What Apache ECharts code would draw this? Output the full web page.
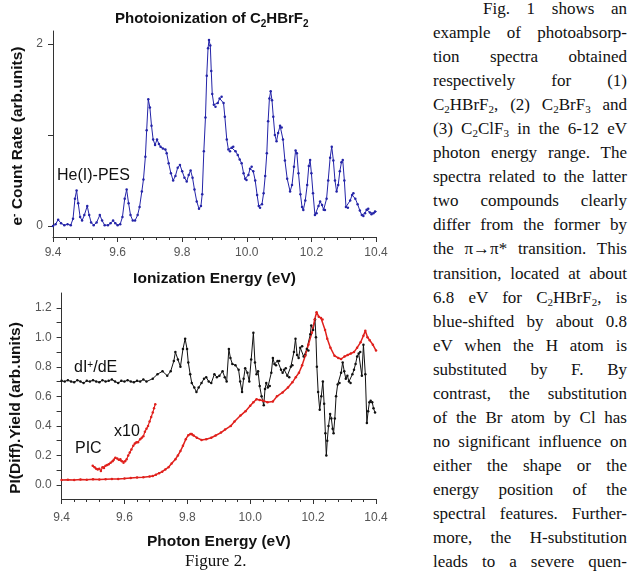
<!DOCTYPE html>
<html>
<head>
<meta charset="utf-8">
<script src="https://cdn.jsdelivr.net/npm/echarts@6/dist/echarts.min.js"></script>
<style>
body { margin: 0; background: #fff; }
#chart { position: absolute; left: 0; top: 0; width: 430px; height: 578px; }
#para { position: absolute; left: 433px; top: -3px; width: 194px; font-family: "Liberation Serif", serif; font-size: 17px; line-height: 24.05px; color: #111; }
#para div { text-align: justify; text-align-last: justify; }
#para div.first { padding-left: 50px; }
#para sub { font-size: 11px; line-height: 0; vertical-align: -3px; }
#caption { position: absolute; left: 185px; top: 551px; font-family: "Liberation Serif", serif; font-size: 17px; color: #111; }
</style>
</head>
<body>
<div id="chart"></div>
<div id="para">
  <div class="first">Fig. 1 shows an</div>
  <div>example of photoabsorp-</div>
  <div>tion spectra obtained</div>
  <div>respectively for (1)</div>
  <div>C<sub>2</sub>HBrF<sub>2</sub>, (2) C<sub>2</sub>BrF<sub>3</sub> and</div>
  <div>(3) C<sub>2</sub>ClF<sub>3</sub> in the 6-12 eV</div>
  <div>photon energy range. The</div>
  <div>spectra related to the latter</div>
  <div>two compounds clearly</div>
  <div>differ from the former by</div>
  <div>the π→π* transition. This</div>
  <div>transition, located at about</div>
  <div>6.8 eV for C<sub>2</sub>HBrF<sub>2</sub>, is</div>
  <div>blue-shifted by about 0.8</div>
  <div>eV when the H atom is</div>
  <div>substituted by F. By</div>
  <div>contrast, the substitution</div>
  <div>of the Br atom by Cl has</div>
  <div>no significant influence on</div>
  <div>either the shape or the</div>
  <div>energy position of the</div>
  <div>spectral features. Further-</div>
  <div>more, the H-substitution</div>
  <div>leads to a severe quen-</div>
</div>
<div id="caption">Figure 2.</div>
<script>
// He(I)-PES spectrum (top panel)
const pesEnergy = [9.400, 9.408, 9.416, 9.425, 9.435, 9.445, 9.455, 9.462, 9.468, 9.473, 9.478, 9.484, 9.490, 9.497, 9.506, 9.512, 9.518, 9.526, 9.535, 9.545, 9.552, 9.560, 9.570, 9.578, 9.586, 9.593, 9.600, 9.608, 9.615, 9.622, 9.628, 9.634, 9.640, 9.647, 9.654, 9.662, 9.668, 9.675, 9.680, 9.686, 9.690, 9.695, 9.700, 9.705, 9.710, 9.716, 9.722, 9.728, 9.733, 9.740, 9.748, 9.752, 9.758, 9.765, 9.772, 9.779, 9.786, 9.793, 9.800, 9.807, 9.814, 9.820, 9.826, 9.832, 9.838, 9.845, 9.852, 9.858, 9.862, 9.867, 9.872, 9.876, 9.880, 9.883, 9.887, 9.890, 9.893, 9.898, 9.903, 9.910, 9.916, 9.922, 9.928, 9.932, 9.938, 9.943, 9.948, 9.953, 9.958, 9.965, 9.972, 9.978, 9.984, 9.990, 9.995, 9.999, 10.005, 10.010, 10.015, 10.020, 10.026, 10.032, 10.037, 10.041, 10.047, 10.052, 10.057, 10.062, 10.066, 10.070, 10.074, 10.078, 10.082, 10.087, 10.092, 10.097, 10.103, 10.108, 10.112, 10.118, 10.125, 10.134, 10.140, 10.146, 10.151, 10.155, 10.160, 10.166, 10.171, 10.175, 10.181, 10.187, 10.192, 10.196, 10.200, 10.205, 10.211, 10.216, 10.222, 10.227, 10.233, 10.238, 10.242, 10.247, 10.252, 10.258, 10.263, 10.268, 10.273, 10.278, 10.283, 10.288, 10.293, 10.297, 10.302, 10.307, 10.313, 10.320, 10.326, 10.330, 10.336, 10.343, 10.350, 10.356, 10.361, 10.366, 10.371, 10.376, 10.381, 10.386, 10.392, 10.397, 10.402];
const pesRate = [0.00, 0.02, 0.07, 0.03, 0.01, 0.02, 0.01, 0.08, 0.30, 0.39, 0.25, 0.10, 0.06, 0.12, 0.22, 0.12, 0.04, 0.01, 0.04, 0.12, 0.06, 0.01, 0.01, 0.03, 0.06, 0.03, 0.01, 0.02, 0.10, 0.30, 0.40, 0.25, 0.12, 0.06, 0.06, 0.12, 0.21, 0.38, 0.51, 0.76, 1.05, 1.39, 1.30, 1.10, 0.95, 0.89, 0.95, 0.90, 0.87, 0.85, 0.84, 0.80, 0.69, 0.58, 0.50, 0.55, 0.64, 0.67, 0.60, 0.53, 0.49, 0.56, 0.61, 0.53, 0.40, 0.27, 0.19, 0.22, 0.35, 0.82, 1.19, 1.65, 1.95, 2.04, 1.98, 1.70, 1.45, 1.33, 1.31, 1.35, 1.40, 1.42, 1.35, 1.20, 0.95, 0.84, 0.82, 0.86, 0.87, 0.82, 0.78, 0.73, 0.69, 0.58, 0.52, 0.505, 0.56, 0.63, 0.65, 0.60, 0.50, 0.34, 0.22, 0.20, 0.24, 0.36, 0.55, 0.80, 1.15, 1.40, 1.48, 1.38, 1.20, 1.00, 0.93, 1.02, 1.10, 1.08, 0.95, 0.72, 0.52, 0.38, 0.45, 0.65, 0.83, 0.80, 0.58, 0.35, 0.21, 0.175, 0.28, 0.45, 0.66, 0.725, 0.58, 0.36, 0.12, 0.14, 0.22, 0.27, 0.23, 0.18, 0.175, 0.30, 0.50, 0.75, 0.87, 0.72, 0.50, 0.38, 0.45, 0.60, 0.70, 0.725, 0.50, 0.21, 0.20, 0.28, 0.34, 0.36, 0.30, 0.24, 0.17, 0.12, 0.11, 0.14, 0.18, 0.19, 0.15, 0.13, 0.14, 0.16, 0.16];

// dI+/dE (bottom panel, black)
const diffEnergy = [9.400, 9.410, 9.420, 9.430, 9.440, 9.450, 9.460, 9.470, 9.480, 9.490, 9.500, 9.510, 9.520, 9.530, 9.540, 9.550, 9.560, 9.570, 9.580, 9.590, 9.600, 9.610, 9.620, 9.630, 9.640, 9.650, 9.660, 9.670, 9.690, 9.705, 9.721, 9.736, 9.747, 9.757, 9.762, 9.770, 9.778, 9.786, 9.793, 9.799, 9.803, 9.809, 9.814, 9.822, 9.829, 9.836, 9.845, 9.853, 9.860, 9.868, 9.876, 9.886, 9.894, 9.902, 9.912, 9.919, 9.925, 9.932, 9.937, 9.943, 9.953, 9.963, 9.968, 9.974, 9.979, 9.984, 9.991, 9.997, 10.003, 10.010, 10.015, 10.020, 10.025, 10.030, 10.036, 10.043, 10.047, 10.051, 10.056, 10.062, 10.067, 10.072, 10.077, 10.082, 10.087, 10.092, 10.098, 10.103, 10.108, 10.113, 10.118, 10.124, 10.129, 10.134, 10.139, 10.144, 10.149, 10.154, 10.159, 10.165, 10.170, 10.175, 10.180, 10.185, 10.191, 10.194, 10.200, 10.206, 10.209, 10.212, 10.216, 10.221, 10.226, 10.231, 10.235, 10.239, 10.242, 10.245, 10.249, 10.254, 10.258, 10.262, 10.265, 10.269, 10.273, 10.278, 10.284, 10.289, 10.294, 10.299, 10.304, 10.309, 10.314, 10.319, 10.325, 10.330, 10.335, 10.340, 10.345, 10.350, 10.355, 10.360, 10.366, 10.371, 10.375, 10.379, 10.383, 10.388, 10.392, 10.397];
const diffYield = [0.705, 0.70, 0.71, 0.70, 0.695, 0.71, 0.70, 0.69, 0.705, 0.70, 0.71, 0.70, 0.695, 0.71, 0.70, 0.705, 0.715, 0.70, 0.69, 0.705, 0.70, 0.71, 0.70, 0.695, 0.705, 0.70, 0.715, 0.70, 0.72, 0.75, 0.77, 0.74, 0.77, 0.84, 0.90, 0.85, 0.80, 0.92, 0.99, 0.92, 0.83, 0.75, 0.69, 0.66, 0.63, 0.66, 0.69, 0.72, 0.73, 0.70, 0.69, 0.75, 0.73, 0.74, 0.77, 0.73, 0.70, 0.92, 0.86, 0.82, 0.81, 0.78, 0.70, 0.63, 0.72, 0.79, 0.76, 0.70, 0.85, 1.03, 0.83, 0.75, 0.77, 0.67, 0.60, 0.54, 0.65, 0.69, 0.66, 0.67, 0.76, 0.86, 0.82, 0.81, 0.84, 0.84, 0.78, 0.76, 0.78, 0.79, 0.74, 0.73, 0.80, 0.81, 0.90, 0.99, 0.88, 0.86, 0.93, 0.94, 0.87, 0.88, 0.92, 0.91, 1.02, 1.08, 1.05, 1.12, 1.00, 0.80, 0.63, 0.51, 0.60, 0.70, 0.55, 0.35, 0.20, 0.30, 0.40, 0.48, 0.45, 0.38, 0.35, 0.45, 0.60, 0.68, 0.69, 0.76, 0.83, 0.77, 0.72, 0.74, 0.70, 0.69, 0.75, 0.78, 0.82, 0.87, 0.89, 0.90, 0.74, 0.95, 0.75, 0.42, 0.50, 0.56, 0.57, 0.56, 0.52, 0.49];

// PI yield (bottom panel, red)
const piEnergy = [9.400, 9.420, 9.440, 9.460, 9.480, 9.500, 9.520, 9.540, 9.560, 9.580, 9.600, 9.620, 9.640, 9.660, 9.680, 9.690, 9.700, 9.710, 9.720, 9.730, 9.740, 9.750, 9.762, 9.770, 9.778, 9.786, 9.795, 9.803, 9.810, 9.814, 9.820, 9.830, 9.845, 9.860, 9.876, 9.890, 9.907, 9.920, 9.938, 9.950, 9.969, 9.985, 10.000, 10.010, 10.020, 10.030, 10.041, 10.055, 10.072, 10.085, 10.103, 10.120, 10.134, 10.145, 10.155, 10.165, 10.175, 10.185, 10.196, 10.205, 10.211, 10.218, 10.225, 10.230, 10.238, 10.245, 10.255, 10.268, 10.280, 10.289, 10.300, 10.310, 10.320, 10.330, 10.340, 10.351, 10.360, 10.366, 10.373, 10.380, 10.390, 10.400];
const piYield = [0.034, 0.036, 0.034, 0.037, 0.035, 0.038, 0.037, 0.039, 0.040, 0.041, 0.043, 0.047, 0.050, 0.052, 0.058, 0.060, 0.070, 0.080, 0.090, 0.105, 0.12, 0.145, 0.174, 0.20, 0.23, 0.265, 0.31, 0.337, 0.345, 0.345, 0.335, 0.32, 0.305, 0.31, 0.32, 0.335, 0.355, 0.375, 0.40, 0.43, 0.47, 0.50, 0.536, 0.56, 0.58, 0.575, 0.57, 0.56, 0.565, 0.60, 0.627, 0.66, 0.695, 0.73, 0.76, 0.81, 0.875, 0.95, 1.03, 1.12, 1.17, 1.14, 1.13, 1.12, 1.05, 0.99, 0.93, 0.875, 0.86, 0.853, 0.87, 0.88, 0.89, 0.90, 0.93, 0.966, 1.01, 1.045, 1.00, 0.98, 0.95, 0.91];

// PIC x10 (bottom panel, red, short)
const picEnergy = [9.499, 9.505, 9.510, 9.515, 9.520, 9.525, 9.530, 9.535, 9.540, 9.545, 9.550, 9.556, 9.562, 9.566, 9.571, 9.577, 9.582, 9.587, 9.592, 9.597, 9.602, 9.607, 9.612, 9.617, 9.622, 9.628, 9.633, 9.638, 9.643, 9.650, 9.655, 9.660, 9.665, 9.670, 9.675, 9.680, 9.685, 9.690, 9.694, 9.698];
const picYield = [0.13, 0.12, 0.11, 0.105, 0.11, 0.095, 0.12, 0.115, 0.13, 0.135, 0.14, 0.15, 0.16, 0.17, 0.185, 0.18, 0.17, 0.175, 0.16, 0.15, 0.16, 0.175, 0.20, 0.22, 0.24, 0.265, 0.28, 0.29, 0.29, 0.31, 0.32, 0.33, 0.36, 0.38, 0.40, 0.43, 0.46, 0.49, 0.52, 0.547];

const topYTicks = [0, 1, 2];
const topYLabels = [0, 2];
const botYTicks = [0, 0.1, 0.2, 0.3, 0.4, 0.5, 0.6, 0.7, 0.8, 0.9, 1.0, 1.1, 1.2];
const botYLabels = [0, 0.2, 0.4, 0.6, 0.8, 1.0, 1.2];

function zip(xs, ys) {
  return xs.map((x, i) => [x, ys[i]]);
}

var chartDom = document.getElementById("chart");
var myChart = echarts.init(chartDom);
var option;

const sans = "Liberation Sans, Arial, sans-serif";
const lineCol = "#333";
const nameStyle = {
  fontSize: 15.5,
  fontWeight: "bold",
  color: "#111",
  fontFamily: sans,
};

function xAxisFor(idx, name, gap, margin) {
  return {
    gridIndex: idx,
    type: "value",
    min: 9.4,
    max: 10.4,
    interval: 0.2,
    axisLine: { onZero: false, lineStyle: { color: lineCol } },
    axisTick: { length: 5, lineStyle: { color: lineCol } },
    minorTick: { show: true, splitNumber: 5, length: 3, lineStyle: { color: lineCol } },
    splitLine: { show: false },
    axisLabel: {
      margin: margin,
      color: "#555",
      fontSize: 12,
      fontFamily: sans,
      formatter: (v) => v.toFixed(1),
    },
    name: name,
    nameLocation: "middle",
    nameGap: gap,
    nameTextStyle: nameStyle,
  };
}

option = {
  animation: false,
  title: {
    text: "Photoionization of C{s|2}HBrF{s|2}",
    left: 110,
    top: 4,
    textStyle: {
      fontSize: 15,
      fontWeight: "bold",
      color: "#111",
      fontFamily: sans,
      lineHeight: 20,
      rich: {
        s: { fontSize: 10, fontWeight: "bold", verticalAlign: "bottom", lineHeight: 12, padding: [6, 0, 0, 0] },
      },
    },
  },
  grid: [
    { left: 53, right: 54, top: 31, height: 206 },
    { left: 53, right: 54, top: 293, height: 206 },
  ],
  xAxis: [
    xAxisFor(0, "Ionization Energy (eV)", 34, 10),
    xAxisFor(1, "Photon Energy (eV)", 35, 13),
  ],
  yAxis: [
    {
      gridIndex: 0,
      type: "value",
      min: -0.12,
      max: 2.14,
      axisLine: { show: true, lineStyle: { color: lineCol } },
      axisTick: { show: true, length: 5, customValues: topYTicks, lineStyle: { color: lineCol } },
      splitLine: { show: false },
      axisLabel: {
        customValues: topYLabels,
        margin: 10,
        color: "#555",
        fontSize: 12,
        fontFamily: sans,
        formatter: (v) => String(Math.round(v)),
      },
      name: "e{sup|-} Count Rate (arb.units)",
      nameLocation: "middle",
      nameGap: 25,
      nameTextStyle: Object.assign({}, nameStyle, {
        padding: [0, 4, 0, 0],
        rich: { sup: { fontSize: 10, fontWeight: "bold", verticalAlign: "top", lineHeight: 10 } },
      }),
    },
    {
      gridIndex: 1,
      type: "value",
      min: -0.095,
      max: 1.3,
      axisLine: { show: true, lineStyle: { color: lineCol } },
      axisTick: { show: true, length: 5, customValues: botYTicks, lineStyle: { color: lineCol } },
      splitLine: { show: false },
      axisLabel: {
        customValues: botYLabels,
        margin: 10,
        color: "#555",
        fontSize: 12,
        fontFamily: sans,
        formatter: (v) => v.toFixed(1),
      },
      name: "PI(Diff).Yield (arb.units)",
      nameLocation: "middle",
      nameGap: 25,
      nameTextStyle: Object.assign({}, nameStyle, { padding: [0, 24, 0, 0] }),
    },
  ],
  graphic: [
    {
      type: "text",
      left: 57,
      top: 168,
      style: { text: "He(I)-PES", font: "16px " + sans, fill: "#111" },
    },
    {
      type: "text",
      left: 74,
      top: 360,
      style: {
        text: "dI{sup|+}/dE",
        font: "16px " + sans,
        fill: "#111",
        rich: { sup: { fontSize: 10, verticalAlign: "top", lineHeight: 10 } },
      },
    },
    {
      type: "text",
      left: 75,
      top: 441,
      style: { text: "PIC", font: "16px " + sans, fill: "#111" },
    },
    {
      type: "text",
      left: 114,
      top: 424,
      style: { text: "x10", font: "16px " + sans, fill: "#111" },
    },
  ],
  series: [
    {
      name: "He(I)-PES",
      type: "line",
      xAxisIndex: 0,
      yAxisIndex: 0,
      data: zip(pesEnergy, pesRate),
      symbol: "circle",
      symbolSize: 2.5,
      lineStyle: { width: 1, color: "#2424a8" },
      itemStyle: { color: "#2424a8" },
    },
    {
      name: "dI+/dE",
      type: "line",
      xAxisIndex: 1,
      yAxisIndex: 1,
      data: zip(diffEnergy, diffYield),
      symbol: "circle",
      symbolSize: 2.5,
      lineStyle: { width: 1, color: "#111" },
      itemStyle: { color: "#111" },
    },
    {
      name: "PI yield",
      type: "line",
      xAxisIndex: 1,
      yAxisIndex: 1,
      data: zip(piEnergy, piYield),
      symbol: "circle",
      symbolSize: 2.5,
      lineStyle: { width: 1.5, color: "#e0201c" },
      itemStyle: { color: "#e0201c" },
    },
    {
      name: "PIC x10",
      type: "line",
      xAxisIndex: 1,
      yAxisIndex: 1,
      data: zip(picEnergy, picYield),
      symbol: "circle",
      symbolSize: 2.5,
      lineStyle: { width: 1.2, color: "#e0201c" },
      itemStyle: { color: "#e0201c" },
    },
  ],
};

option && myChart.setOption(option);
</script>
</body>
</html>
